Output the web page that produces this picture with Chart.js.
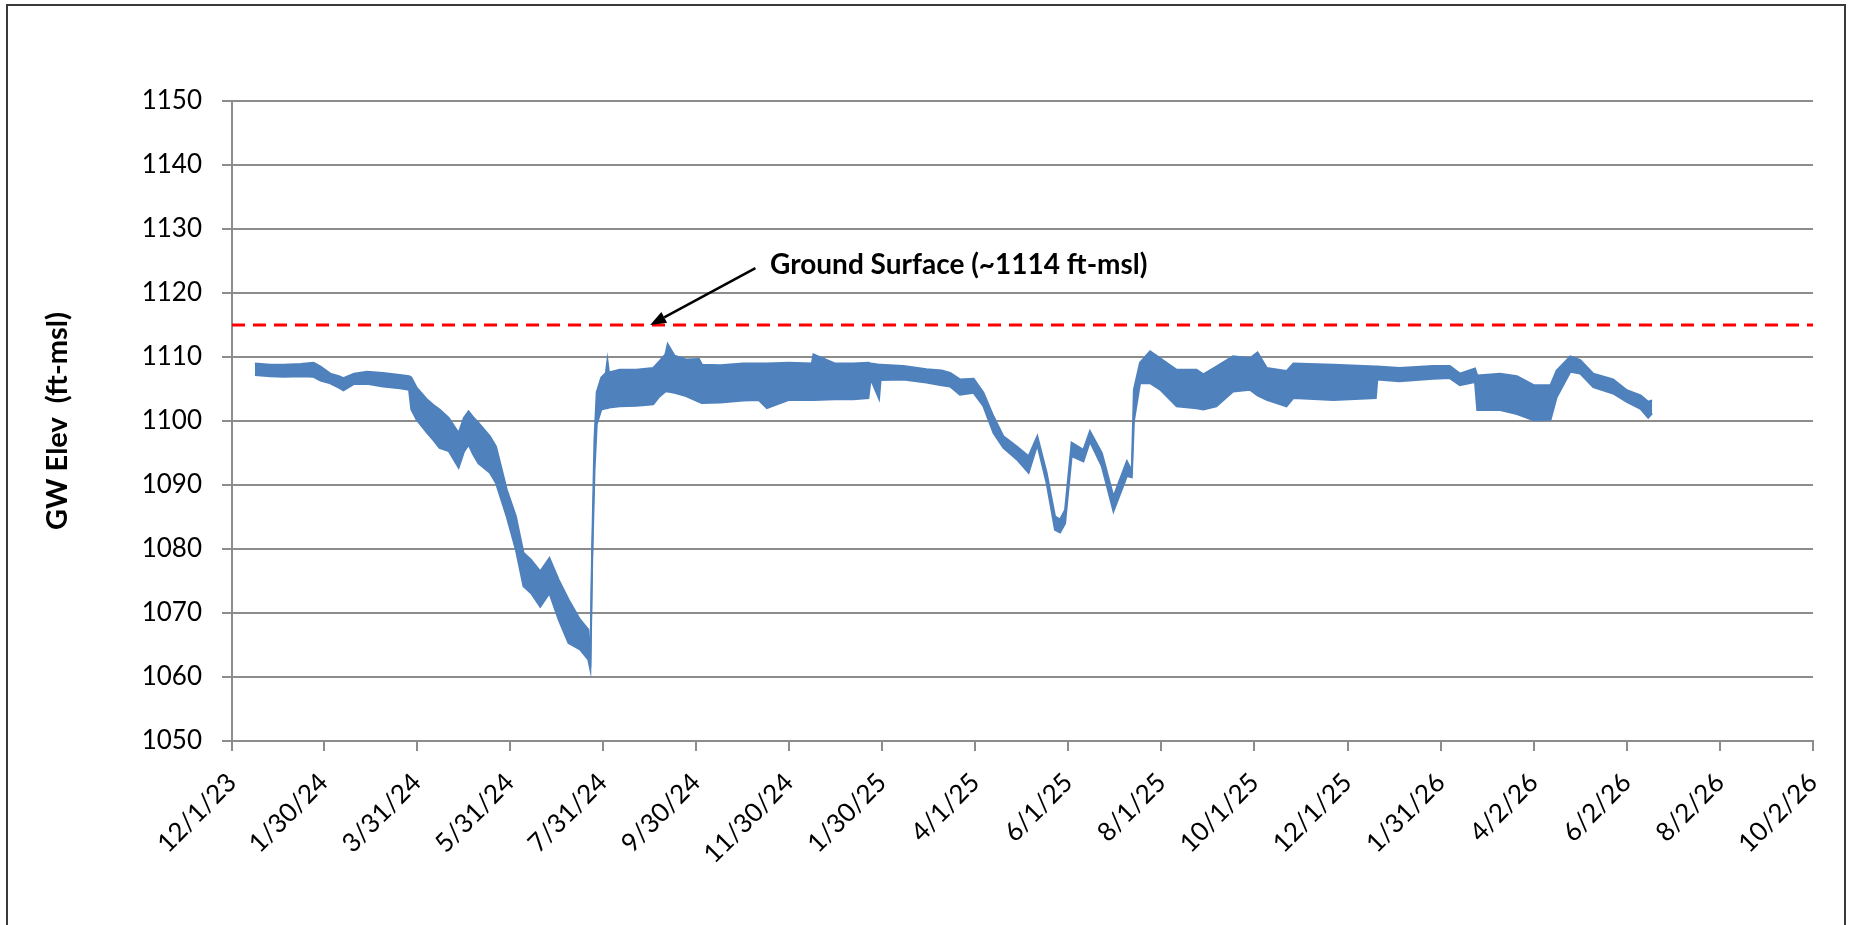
<!DOCTYPE html>
<html>
<head>
<meta charset="utf-8">
<title>GW Elev</title>
<script src="https://cdn.jsdelivr.net/npm/chart.js@4.4.1/dist/chart.umd.min.js"></script>
<style>
  html, body { margin: 0; padding: 0; background: #fff; }
  #wrap { position: relative; width: 1855px; height: 925px; overflow: hidden; }
  #chart { position: absolute; left: 0; top: 0; }
  #frame { position: absolute; left: 6px; top: 4px; width: 1840px; height: 960px; border: 2px solid #3a3a3a; box-sizing: border-box; pointer-events: none; }
</style>
</head>
<body>
<div id="wrap">
  <canvas id="chart" width="1855" height="925"></canvas>
  <div id="frame"></div>
</div>
<script>
// days since 12/1/23, with the top and bottom of the daily swing in ft-msl
var gwDays = [15, 25, 34, 45, 53.5, 58, 64.4, 70, 73, 80, 88.4, 99, 110, 116, 117.5, 121, 128, 132, 136, 142,
  148.5, 152, 155, 158, 161.5, 169, 173, 180, 186, 191, 196, 202, 208, 214, 220.5, 228, 233.5, 234.8, 236, 237.5,
  239, 242, 245, 246, 247, 254, 265, 276, 280, 284, 285.5, 290, 297.5, 306, 308, 320, 335, 345, 350.5, 365,
  380, 381, 395, 407, 417, 418.5, 424, 425, 440, 455, 465, 470.6, 477, 486, 492.4, 499, 505.5, 514.3, 522, 527.7,
  533.8, 539.3, 542.6, 545.9, 550.2, 557.9, 562.2, 570, 577.6, 586.4, 589.6, 591, 595, 601.6, 608.2, 619, 632, 636.5, 645, 656,
  667, 672, 678, 691, 695.5, 721.7, 749.5, 750.5, 765, 787, 798, 804.6, 814.5, 816, 831, 842, 853, 864, 868, 877,
  883.5, 892, 905, 914, 923, 928, 930.6];
var gwHigh = [1109.0, 1108.8, 1108.8, 1108.9, 1109.1, 1108.5, 1107.4, 1107.0, 1106.7, 1107.4, 1107.7, 1107.5, 1107.2, 1107.0, 1106.8, 1105.2, 1103.3, 1102.5, 1101.8, 1100.5,
  1098.1, 1100.5, 1101.5, 1100.6, 1099.7, 1097.6, 1096.0, 1089.3, 1085.1, 1079.4, 1078.3, 1076.5, 1078.6, 1075.2, 1072.1, 1069.0, 1067.4, 1061.5, 1080.0, 1097.0,
  1104.5, 1106.8, 1107.5, 1109.5, 1107.6, 1108.0, 1108.0, 1108.3, 1109.3, 1110.4, 1112.0, 1110.2, 1109.6, 1109.7, 1108.8, 1108.7, 1109.0, 1109.0, 1109.0, 1109.1,
  1109.0, 1110.4, 1109.0, 1109.0, 1109.1, 1109.0, 1108.8, 1108.8, 1108.6, 1108.1, 1107.9, 1107.5, 1106.5, 1106.6, 1104.4, 1100.7, 1097.6, 1096.0, 1094.5, 1097.6,
  1091.9, 1085.1, 1084.6, 1086.1, 1096.6, 1095.5, 1098.4, 1095.0, 1088.2, 1093.7, 1092.2, 1104.9, 1109.1, 1110.9, 1109.8, 1108.0, 1108.0, 1107.3, 1108.5, 1110.1,
  1109.8, 1110.7, 1108.3, 1107.8, 1109.0, 1108.8, 1108.5, 1108.5, 1108.3, 1108.6, 1108.6, 1107.4, 1108.2, 1107.1, 1107.4, 1107.0, 1105.6, 1105.6, 1107.9, 1110.1,
  1109.5, 1107.4, 1106.5, 1104.8, 1104.0, 1103.0, 1103.2];
var gwLow = [1107.2, 1107.0, 1106.9, 1107.0, 1106.9, 1106.3, 1105.9, 1105.2, 1104.8, 1105.8, 1105.8, 1105.4, 1105.1, 1104.9, 1101.8, 1100.2, 1098.1, 1097.0, 1095.8, 1095.3,
  1092.7, 1095.2, 1096.3, 1094.8, 1093.4, 1091.9, 1090.3, 1085.1, 1079.9, 1074.2, 1073.1, 1071.0, 1073.1, 1069.0, 1065.3, 1064.3, 1062.7, 1061.2, 1078.0, 1092.0,
  1099.5, 1101.8, 1102.0, 1102.0, 1102.1, 1102.3, 1102.4, 1102.6, 1103.8, 1104.6, 1104.6, 1104.4, 1103.9, 1103.0, 1102.8, 1102.9, 1103.2, 1103.3, 1102.0, 1103.3,
  1103.3, 1103.3, 1103.4, 1103.4, 1103.6, 1106.6, 1103.5, 1106.4, 1106.5, 1106.0, 1105.6, 1105.4, 1104.1, 1104.4, 1102.3, 1098.1, 1095.8, 1094.0, 1091.9, 1096.3,
  1090.3, 1083.0, 1082.6, 1084.0, 1094.5, 1093.7, 1096.8, 1092.9, 1085.9, 1091.4, 1091.2, 1100.0, 1105.9, 1105.9, 1104.9, 1102.3, 1102.0, 1101.8, 1102.3, 1104.6,
  1104.9, 1104.0, 1103.3, 1102.3, 1103.6, 1103.3, 1103.6, 1106.5, 1106.2, 1106.6, 1106.7, 1105.6, 1106.1, 1101.7, 1101.7, 1101.1, 1100.1, 1100.2, 1103.7, 1107.7,
  1107.4, 1105.3, 1104.3, 1103.0, 1101.9, 1100.5, 1101.2];

var groundDays = [0, 1036];
var groundElev = [1115, 1115];

var xTickDays = [0, 60, 121, 182, 243, 304, 365, 426, 487, 548, 609, 670, 731, 792, 853, 914, 975, 1036];
var xTickLabels = ['12/1/23', '1/30/24', '3/31/24', '5/31/24', '7/31/24', '9/30/24', '11/30/24', '1/30/25', '4/1/25',
  '6/1/25', '8/1/25', '10/1/25', '12/1/25', '1/31/26', '4/2/26', '6/2/26', '8/2/26', '10/2/26'];
var yTickValues = [1050, 1060, 1070, 1080, 1090, 1100, 1110, 1120, 1130, 1140, 1150];

var blue = '#4F81BD';
var gridGray = '#8c8c8c';

// label + arrow pointing at the ground surface line (in data units)
var note = { text: 'Ground Surface (~1114 ft-msl)', day: 352.6, elev: 1123.0,
  tailDay: 343, tailElev: 1123.9, tipDay: 274, tipElev: 1115 };

function toPoints(xs, ys) {
  return xs.map(function(x, i) { return { x: x, y: ys[i] }; });
}

var groundNote = {
  id: 'groundNote',
  afterDatasetsDraw: function(chart) {
    var ctx = chart.ctx, xs = chart.scales.x, ys = chart.scales.y;
    var x0 = xs.getPixelForValue(note.tailDay), y0 = ys.getPixelForValue(note.tailElev);
    var x1 = xs.getPixelForValue(note.tipDay), y1 = ys.getPixelForValue(note.tipElev);
    var ang = Math.atan2(y1 - y0, x1 - x0);
    var head = 16, half = 6;
    ctx.save();
    ctx.strokeStyle = '#000';
    ctx.fillStyle = '#000';
    ctx.lineWidth = 2.5;
    ctx.beginPath();
    ctx.moveTo(x0, y0);
    ctx.lineTo(x1 - Math.cos(ang) * head, y1 - Math.sin(ang) * head);
    ctx.stroke();
    ctx.beginPath();
    ctx.moveTo(x1, y1);
    ctx.lineTo(x1 - Math.cos(ang) * head - Math.sin(ang) * half, y1 - Math.sin(ang) * head + Math.cos(ang) * half);
    ctx.lineTo(x1 - Math.cos(ang) * head + Math.sin(ang) * half, y1 - Math.sin(ang) * head - Math.cos(ang) * half);
    ctx.closePath();
    ctx.fill();
    ctx.font = 'bold 28px Lato';
    ctx.textAlign = 'left';
    ctx.textBaseline = 'alphabetic';
    ctx.fillText(note.text, xs.getPixelForValue(note.day), ys.getPixelForValue(note.elev));
    ctx.restore();
  }
};

var chart = new Chart(document.getElementById('chart').getContext('2d'), {
  type: 'line',
  data: {
    datasets: [{
      label: 'GW Elev high',
      data: toPoints(gwDays, gwHigh),
      borderColor: blue,
      borderWidth: 2,
      pointRadius: 0,
      fill: false
    }, {
      label: 'GW Elev low',
      data: toPoints(gwDays, gwLow),
      borderColor: blue,
      backgroundColor: blue,
      borderWidth: 2,
      pointRadius: 0,
      fill: '-1'
    }, {
      label: 'Ground Surface',
      data: toPoints(groundDays, groundElev),
      borderColor: '#ff0000',
      borderWidth: 3,
      borderDash: [13, 8],
      pointRadius: 0,
      fill: false
    }]
  },
  options: {
    responsive: false,
    animation: false,
    layout: { padding: { left: 0, top: 101, right: 42, bottom: 0 } },
    plugins: {
      legend: { display: false },
      tooltip: { enabled: false }
    },
    scales: {
      x: {
        type: 'linear',
        min: 0,
        max: 1036,
        afterBuildTicks: function(scale) {
          scale.ticks = xTickDays.map(function(v) { return { value: v }; });
        },
        afterFit: function(scale) { scale.height = 184; },
        grid: { drawOnChartArea: false, drawTicks: true, tickLength: 10, tickColor: gridGray, lineWidth: 2 },
        border: { color: gridGray, width: 2 },
        ticks: {
          autoSkip: false,
          minRotation: 45,
          maxRotation: 45,
          padding: 16,
          color: '#000',
          font: { family: 'Lato', size: 26 },
          callback: function(value, index) { return xTickLabels[index]; }
        }
      },
      y: {
        min: 1050,
        max: 1150,
        afterBuildTicks: function(scale) {
          var t = [];
          yTickValues.forEach(function(v, i) {
            t.push({ value: v });
            if (i < yTickValues.length - 1) t.push({ value: (v + yTickValues[i + 1]) / 2 });
          });
          scale.ticks = t;
        },
        afterFit: function(scale) { scale.width = 232; },
        grid: {
          color: function(c) {
            return c.tick && yTickValues.indexOf(c.tick.value) >= 0 ? gridGray : 'rgba(0,0,0,0)';
          },
          tickColor: gridGray,
          tickLength: 10,
          lineWidth: 2
        },
        border: { color: gridGray, width: 2 },
        ticks: {
          padding: 20,
          color: '#000',
          font: { family: 'Lato', size: 26 },
          callback: function(value) { return yTickValues.indexOf(value) >= 0 ? String(value) : ''; }
        },
        title: {
          display: true,
          text: 'GW Elev  (ft-msl)',
          color: '#000',
          font: { family: 'Lato', size: 29, weight: 'bold' },
          padding: { top: 40, bottom: 0 }
        }
      }
    }
  },
  plugins: [groundNote]
});
</script>
</body>
</html>
